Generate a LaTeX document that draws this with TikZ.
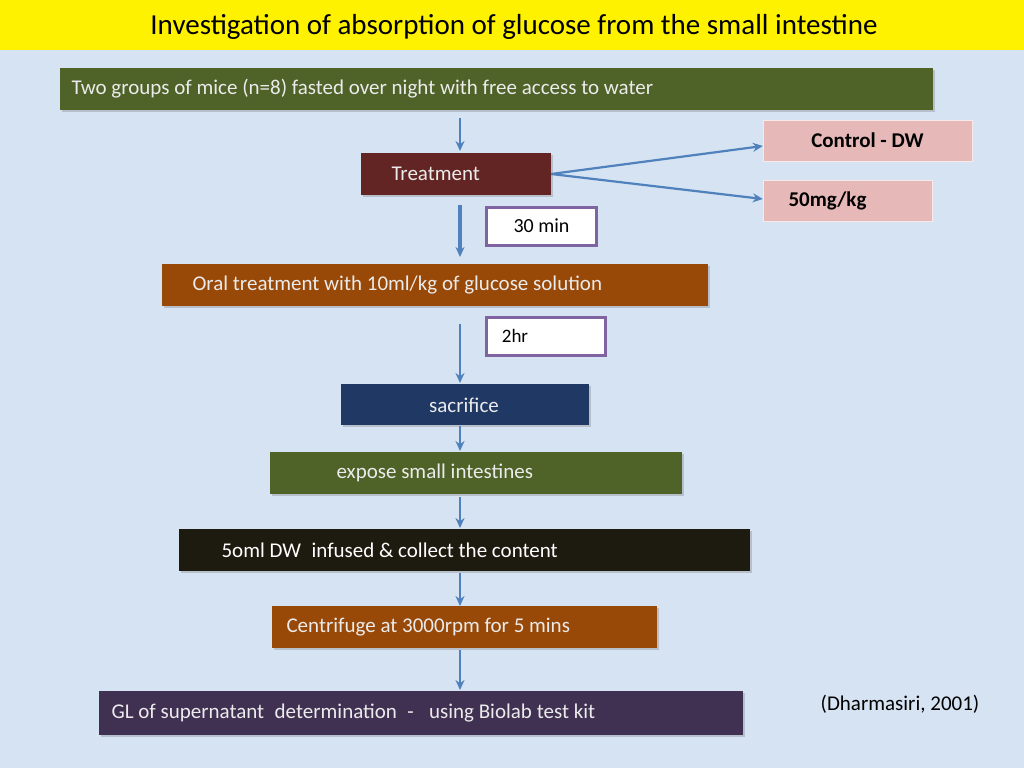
\documentclass[tikz,border=0pt]{standalone}
\usepackage{fontspec}
\setmainfont{Carlito}
\usetikzlibrary{arrows.meta,shadows}
\definecolor{bg}{RGB}{214,227,243}
\definecolor{olive}{RGB}{79,98,40}
\definecolor{dred}{RGB}{99,37,35}
\definecolor{pinkb}{RGB}{230,185,184}
\definecolor{brn}{RGB}{152,72,7}
\definecolor{dblue}{RGB}{31,56,100}
\definecolor{dblack}{RGB}{29,27,16}
\definecolor{dpurp}{RGB}{64,49,82}
\definecolor{purp}{RGB}{128,100,162}
\definecolor{arr}{RGB}{79,129,189}
\definecolor{txt}{RGB}{235,235,235}
\tikzset{
 bx/.style={draw=none,minimum height=42pt,inner sep=0pt,drop shadow={shadow xshift=2pt,shadow yshift=-2pt,opacity=0.35}},
 pk/.style={fill=pinkb,draw=white!70!pinkb,minimum height=41pt,inner sep=0pt,font=\fontsize{21}{24}\selectfont\bfseries,text=black},
 tm/.style={fill=white,draw=purp,line width=3pt,minimum height=38pt,inner sep=0pt,font=\fontsize{20}{24}\selectfont},
 lbl/.style={font=\fontsize{21}{24}\selectfont,text=txt,anchor=west},
 ar/.style={draw=arr,line width=2.2pt,-{Stealth[length=10pt,width=9pt]}},
}
\begin{document}
\begin{tikzpicture}[x=1pt,y=-1pt]
\useasboundingbox (0,0) rectangle (1024,768);
\fill[bg] (0,0) rectangle (1024,768);
\fill[yellow] (0,0) rectangle (1024,50);
\node (title) at (514,27) {\fontsize{29}{32}\selectfont Investigation of absorption of glucose from the small intestine};
% boxes
\node[bx,fill=olive,minimum width=873pt] (b1) at (496.5,89) {};
\node[lbl] at (68,89) {Two groups of mice (n=8) fasted over night with free access to water};
\node[bx,fill=dred,minimum width=190pt] (tr) at (456,174) {};
\node[lbl] at (388,174) {Treatment};
\node[pk,minimum width=209pt] (c1) at (867.5,140.5) {Control - DW};
\node[pk,minimum width=169pt,anchor=center] (c2) at (847.5,200.5) {\hspace*{-40pt}50mg/kg};
\node[tm,minimum width=110pt] (t30) at (541.5,226) {30 min};
\node[bx,fill=brn,minimum width=546pt] (or) at (435,285) {};
\node[lbl] at (189,285) {Oral treatment with 10ml/kg of glucose solution};
\node[tm,minimum width=119pt,font=\fontsize{19}{22}\selectfont] (t2) at (546,336) {\hspace*{-62pt}2hr};
\node[bx,fill=dblue,minimum width=248pt,minimum height=41pt] (sa) at (465,404.5) {};
\node[lbl,anchor=center] at (464,405) {sacrifice};
\node[bx,fill=olive,minimum width=412pt] (ex) at (476,473) {};
\node[lbl] at (333,473) {expose small intestines};
\node[bx,fill=dblack,minimum width=571pt] (di) at (464.5,550) {};
\node[lbl,text=white] at (218,550) {5oml DW\enspace infused \& collect the content};
\node[bx,fill=brn,minimum width=385pt] (ce) at (464.5,627) {};
\node[lbl] at (283,627) {Centrifuge at 3000rpm for 5 mins};
\node[bx,fill=dpurp,minimum width=644pt,minimum height=44pt] (gl) at (421,713) {};
\node[lbl] at (108,713) {GL of supernatant\enspace determination\enspace -\enspace\ using Biolab test kit};
\node (ref) at (900,704) {\fontsize{21}{24}\selectfont (Dharmasiri, 2001)};
% arrows
\coordinate (a1) at (460,118); \coordinate (a1e) at (460,151);
\draw[ar] (a1) -- (a1e);
\draw[ar] (tr.east) -- (c1.west|-0,146);
\draw[ar] (tr.east) -- (c2.west|-0,199);
\coordinate (a2) at (460,205); \coordinate (a2e) at (460,257);
\draw[ar,line width=4pt] (a2) -- (a2e);
\coordinate (a3) at (460,324); \coordinate (a3e) at (460,383);
\draw[ar] (a3) -- (a3e);
\draw[ar] (460,426) -- (460,451);
\draw[ar] (460,497) -- (460,528);
\draw[ar] (460,573) -- (460,606);
\draw[ar] (460,650) -- (460,690);
\end{tikzpicture}
\end{document}
